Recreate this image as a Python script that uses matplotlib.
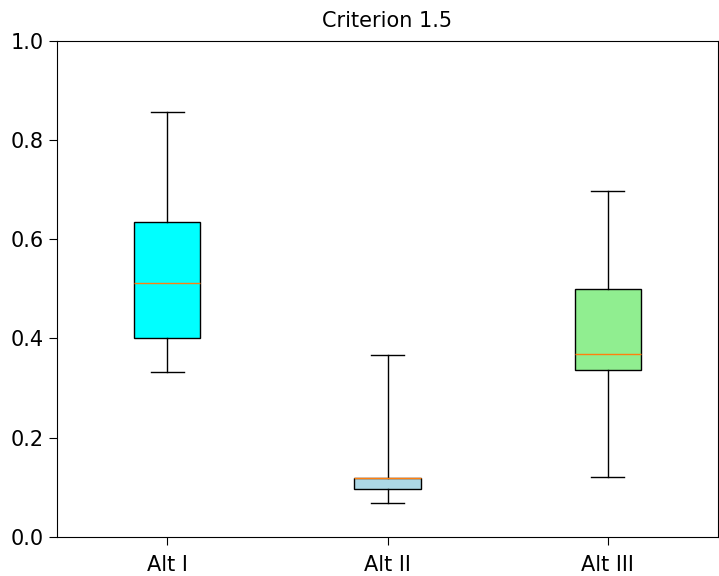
import matplotlib
matplotlib.use("Agg")
import matplotlib.pyplot as plt

labels = ["Alt I", "Alt II", "Alt III"]
whislo = [0.333, 0.069, 0.121]
q1 = [0.401, 0.096, 0.337]
med = [0.512, 0.118, 0.369]
q3 = [0.635, 0.118, 0.500]
whishi = [0.857, 0.367, 0.698]
colors = ["cyan", "lightblue", "lightgreen"]

stats = [dict(label=l, whislo=a, q1=b, med=c, q3=d, whishi=e, fliers=[])
         for l, a, b, c, d, e in zip(labels, whislo, q1, med, q3, whishi)]

fig = plt.figure(figsize=(7.19, 5.76), dpi=100)
ax = fig.add_axes([0.0793, 0.068, 0.9193, 0.861])
bp = ax.bxp(stats, patch_artist=True, showfliers=False)
for patch, c in zip(bp["boxes"], colors):
    patch.set_facecolor(c)
ax.set_ylim(0, 1.0)
ax.set_title("Criterion 1.5", fontsize=15, pad=10)
ax.tick_params(labelsize=15, length=6)
ax.tick_params(axis="x", pad=7)
fig.savefig("out.png", dpi=100)
